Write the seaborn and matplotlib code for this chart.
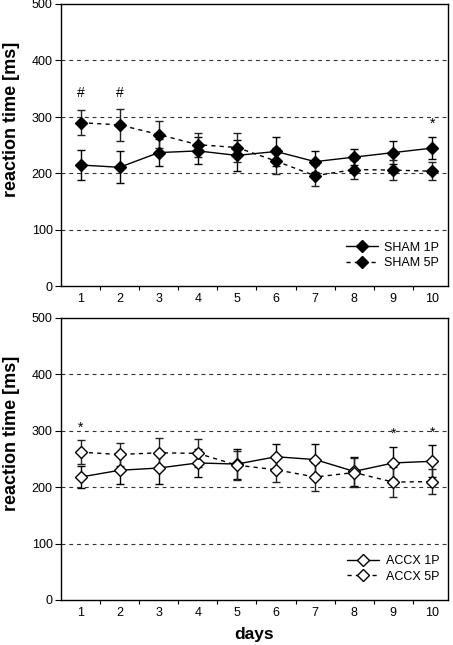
import numpy as np
import pandas as pd
import seaborn as sns
import matplotlib
matplotlib.use("Agg")
import matplotlib.pyplot as plt

days = [1, 2, 3, 4, 5, 6, 7, 8, 9, 10]

sham_1p = [215, 211, 237, 240, 232, 239, 221, 229, 237, 245]
sham_1p_err = [26, 28, 24, 24, 27, 25, 18, 14, 21, 19]
sham_5p = [290, 286, 269, 251, 246, 222, 196, 207, 206, 204]
sham_5p_err = [22, 29, 24, 21, 26, 23, 19, 17, 18, 16]

accx_1p = [218, 230, 234, 243, 241, 254, 249, 228, 243, 246]
accx_1p_err = [20, 25, 28, 25, 27, 23, 28, 25, 28, 28]
accx_5p = [262, 258, 261, 260, 239, 231, 218, 226, 209, 210]
accx_5p_err = [21, 20, 27, 25, 26, 22, 25, 26, 26, 22]

top_marks = [("#", 1, 342), ("#", 2, 342), ("*", 10, 288)]
bot_marks = [("*", 1, 306), ("*", 9, 294), ("*", 10, 296)]

yticks = [0, 100, 200, 300, 400, 500]

sns.set_style("white")
plt.rcParams["font.family"] = ["Liberation Sans", "DejaVu Sans"]
plt.rcParams["text.color"] = "black"
plt.rcParams["axes.labelcolor"] = "black"
plt.rcParams["xtick.color"] = "black"
plt.rcParams["ytick.color"] = "black"

fig = plt.figure(figsize=(4.53, 6.45), dpi=100)
W, H = 453, 645
ax1 = fig.add_axes([61 / W, 1 - 286.5 / H, (448 - 61) / W, (286.5 - 4) / H])
ax2 = fig.add_axes([61 / W, 1 - 600 / H, (448 - 61) / W, (600 - 318) / H])


def panel(ax, s1, e1, s2, e2, names, fill, marks):
    df1 = pd.DataFrame({"day": days, "rt": s1})
    df2 = pd.DataFrame({"day": days, "rt": s2})
    ax.errorbar(days, s1, yerr=e1, fmt="none", ecolor="black", elinewidth=1,
                capsize=3, capthick=1, zorder=3)
    ax.errorbar(days, s2, yerr=e2, fmt="none", ecolor="#222222", elinewidth=1,
                capsize=3, capthick=1, zorder=3)
    sns.lineplot(data=df1, x="day", y="rt", ax=ax, color="black", lw=1,
                 marker="D", markersize=6.3, markerfacecolor=fill,
                 markeredgecolor="black", markeredgewidth=1, label=names[0],
                 zorder=4)
    sns.lineplot(data=df2, x="day", y="rt", ax=ax, color="black", lw=1,
                 linestyle=(0, (3, 3)), marker="D", markersize=6.3,
                 markerfacecolor=fill, markeredgecolor="black",
                 markeredgewidth=1, label=names[1], zorder=4)
    for y in [100, 200, 300, 400]:
        ax.axhline(y, color="#333333", lw=0.8, ls=(0, (3.5, 3.5)), zorder=1)
    for t, d, v in marks:
        ax.text(d, v, t, ha="center", va="center", fontsize=10, color="black")
    ax.set_xlim(0.5, 10.4)
    ax.set_ylim(0, 500)
    ax.set_yticks(yticks)
    ax.set_yticklabels([str(v) for v in yticks], fontsize=9)
    ax.set_xticks(days)
    ax.set_xticklabels([str(d) for d in days], fontsize=9)
    ax.set_xticks([1.5, 2.5, 3.5, 4.5, 5.5, 6.5, 7.5, 8.5, 9.5], minor=True)
    ax.tick_params(axis="x", which="major", length=0, pad=5)
    ax.tick_params(axis="x", which="minor", length=3, width=0.8, direction="out",
                   bottom=True, color="black")
    ax.tick_params(axis="y", length=4, width=0.8, direction="out", left=True,
                   color="black", pad=2)
    for sp in ax.spines.values():
        sp.set_color("black")
        sp.set_linewidth(1)
    ax.set_ylabel("reaction time [ms]", fontsize=13, fontweight="bold")
    ax.yaxis.set_label_coords(-0.105, 0.59)
    ax.set_xlabel("")
    ax.legend(loc="lower right", frameon=False, fontsize=9,
              handlelength=2.6, handletextpad=0.5, labelspacing=0.3,
              borderaxespad=0.3, bbox_to_anchor=(1.0, 0.03))


panel(ax1, sham_1p, sham_1p_err, sham_5p, sham_5p_err,
      ["SHAM 1P", "SHAM 5P"], "black", top_marks)
panel(ax2, accx_1p, accx_1p_err, accx_5p, accx_5p_err,
      ["ACCX 1P", "ACCX 5P"], "white", bot_marks)
ax2.set_xlabel("days", fontsize=12.5, fontweight="bold", labelpad=6)

fig.savefig("out.png", dpi=100)
